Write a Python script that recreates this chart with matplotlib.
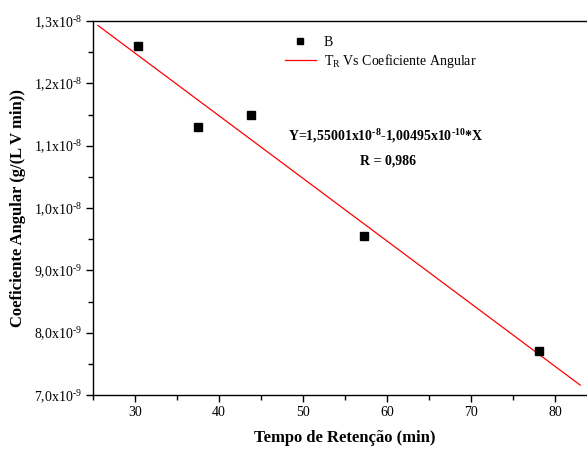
import matplotlib
matplotlib.use("Agg")
import matplotlib.pyplot as plt
from matplotlib.ticker import FixedLocator, MultipleLocator
import numpy as np

plt.rcParams['font.family'] = ['Liberation Serif', 'DejaVu Serif']
plt.rcParams['mathtext.fontset'] = 'custom'
plt.rcParams['mathtext.rm'] = 'Liberation Serif'
plt.rcParams['mathtext.bf'] = 'Liberation Serif:bold'
plt.rcParams['mathtext.default'] = 'regular'

H = "\u2010"  # hyphen used in superscripts

# Data
tempo = [30.4, 37.5, 43.8, 57.25, 78.1]
coef = [1.26e-8, 1.13e-8, 1.15e-8, 9.55e-9, 7.70e-9]
intercept = 1.55001e-8
slope = -1.00495e-10
fit_range = [25.6, 83.0]

x_ticks = [30, 40, 50, 60, 70, 80]
y_ticks = [7.0e-9, 8.0e-9, 9.0e-9, 1.0e-8, 1.1e-8, 1.2e-8, 1.3e-8]
y_tick_labels = ["7,0x10$^{" + H + "9}$", "8,0x10$^{" + H + "9}$", "9,0x10$^{" + H + "9}$",
                 "1,0x10$^{" + H + "8}$", "1,1x10$^{" + H + "8}$", "1,2x10$^{" + H + "8}$",
                 "1,3x10$^{" + H + "8}$"]

fig = plt.figure(figsize=(5.87, 4.49), dpi=100)
ax = fig.add_axes([93/587, (449-395)/449, (597-93)/587, (395-21)/449])

ax.plot(tempo, coef, 's', color='black', markersize=5.5, label='B', zorder=3)
xf = np.array(fit_range)
ax.plot(xf, intercept + slope * xf, color='red', lw=0.9, label='T$_{R}$ Vs Coeficiente Angular')

ax.set_xlim(25, 85)
ax.set_ylim(7.0e-9, 1.3e-8)
ax.xaxis.set_major_locator(FixedLocator(x_ticks))
ax.xaxis.set_minor_locator(MultipleLocator(5))
ax.set_yticks(y_ticks)
ax.set_yticklabels(y_tick_labels)
ax.yaxis.set_minor_locator(MultipleLocator(0.5e-9))
ax.tick_params(which='major', direction='out', length=5, width=1, labelsize=10, pad=3)
ax.tick_params(which='minor', direction='out', length=3.5, width=1)
for s in ax.spines.values():
    s.set_linewidth(1.0)

ax.set_xlabel('Tempo de Retenção (min)', fontsize=12, fontweight='bold', labelpad=8)
ax.set_ylabel('Coeficiente Angular (g/(L V min))', fontsize=12, fontweight='bold', labelpad=6)

leg = ax.legend(loc='upper left', bbox_to_anchor=(0.37, 0.975), frameon=False, fontsize=10,
                handlelength=2.2, borderaxespad=0, handletextpad=0.6, labelspacing=0.2,
                markerscale=0.85)

ax.text(0.387, 0.6925, 'Y=1,55001x10$^{' + H + '8}$-1,00495x10$^{' + H + '10}$*X',
        transform=ax.transAxes, fontsize=10, fontweight='bold', ha='left', va='center')
ax.text(0.585, 0.6257, 'R = 0,986', transform=ax.transAxes,
        fontsize=10, fontweight='bold', ha='center', va='center')

fig.savefig('out.png', dpi=100)
